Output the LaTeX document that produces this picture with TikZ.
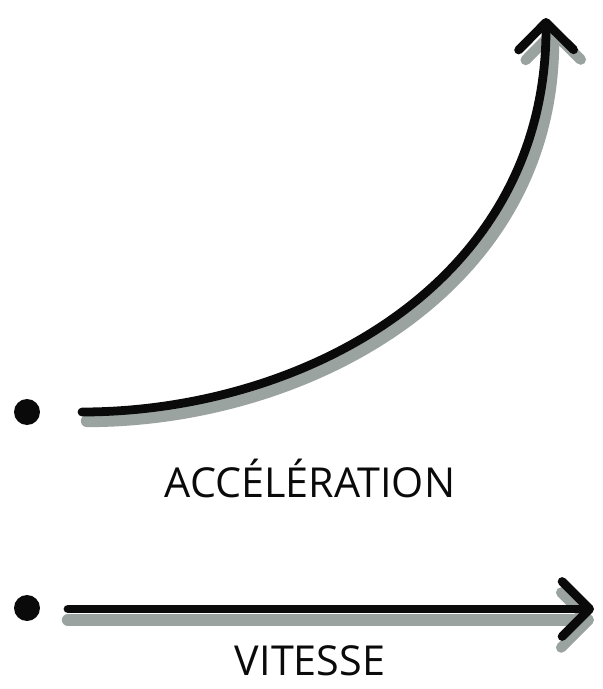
\documentclass[tikz,border=0pt]{standalone}
\usepackage{fontspec}
\setsansfont{Open Sans}
\usetikzlibrary{arrows.meta,positioning}
\definecolor{inkblack}{RGB}{10,10,10}
\definecolor{shadowgrey}{RGB}{155,163,160}

\begin{document}
\begin{tikzpicture}[
    x=0.02cm,y=-0.02cm,
    dot/.style={circle,fill=inkblack,inner sep=0pt,minimum size=0.52cm},
    ink/.style={draw=inkblack,line width=5pt,line cap=round,line join=round,
      -{Straight Barb[length=5.5mm,width=11mm,line width=5pt,round]}},
    shade/.style={draw=shadowgrey,line width=7pt,line cap=round,line join=round,
      -{Straight Barb[length=5.5mm,width=11mm,line width=6pt,round]}},
    label/.style={font=\sffamily\fontsize{23.5}{26}\selectfont,inner sep=0pt,text=inkblack}
  ]
    \useasboundingbox (0,0) rectangle (602,689);
    % acceleration
    \node[dot] (acc dot) at (27,412) {};
    \coordinate (acc start) at (82,412);
    \coordinate (acc end) at (546,18);
    \path[shade] ([shift={(5,9)}]acc start) .. controls (306,421) and (555,290) .. ([shift={(7,9)}]acc end);
    \path[ink] (acc start) .. controls (300,412) and (547,285) .. (acc end);
    \node[label] (acc text) at (310,478) {ACCÉLÉRATION};
    % vitesse
    \node[dot] (vit dot) at (27,608) {};
    \coordinate (vit start) at (68,609);
    \coordinate (vit end) at (594,609);
    \path[shade] ([shift={(0,11)}]vit start) -- ([shift={(0,11)}]vit end);
    \path[ink] (vit start) -- (vit end);
    \node[label,below=0.72cm of vit start -| acc text] (vit text) {VITESSE};
  \end{tikzpicture}
\end{document}
